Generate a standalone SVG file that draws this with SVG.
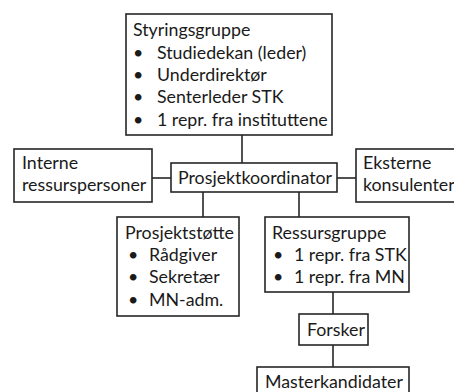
<svg xmlns="http://www.w3.org/2000/svg" width="454" height="392" viewBox="0 0 454 392">
<style>
.box{fill:#fff;stroke:#262626;stroke-width:1.6}
.t{font-family:Lato,"Liberation Sans",sans-serif;font-size:17.8px;fill:#1a1a1a}
.c{stroke:#262626;stroke-width:1.6;fill:none}
</style>
<rect width="454" height="392" fill="#fff"/>
<g id="connectors">
<line class="c" x1="242" y1="135" x2="242" y2="163"/>
<line class="c" x1="152" y1="178" x2="171" y2="178"/>
<line class="c" x1="337" y1="178" x2="356" y2="178"/>
<line class="c" x1="203" y1="192" x2="203" y2="217"/>
<line class="c" x1="299" y1="192" x2="299" y2="217"/>
<line class="c" x1="333" y1="292" x2="333" y2="314"/>
<line class="c" x1="333" y1="345" x2="333" y2="367"/>
</g>
<g id="styringsgruppe">
<rect class="box" x="126" y="14" width="206" height="121"/>
<text class="t" x="133" y="36">Styringsgruppe</text>
<text class="t" x="133" y="58.5">•</text><text class="t" x="157" y="58.5">Studiedekan (leder)</text>
<text class="t" x="133" y="81">•</text><text class="t" x="157" y="81">Underdirektør</text>
<text class="t" x="133" y="103.4">•</text><text class="t" x="157" y="103.4">Senterleder STK</text>
<text class="t" x="133" y="125.8">•</text><text class="t" x="157" y="125.8">1 repr. fra instituttene</text>
</g>
<g id="interne">
<rect class="box" x="14" y="149" width="138" height="53"/>
<text class="t" x="22" y="169">Interne</text>
<text class="t" x="22" y="191.4">ressurspersoner</text>
</g>
<g id="prosjektkoordinator">
<rect class="box" x="171" y="163" width="166" height="29"/>
<text class="t" x="178" y="184">Prosjektkoordinator</text>
</g>
<g id="eksterne">
<rect class="box" x="356" y="149" width="120" height="53"/>
<text class="t" x="363" y="169">Eksterne</text>
<text class="t" x="363" y="191.4">konsulenter</text>
</g>
<g id="prosjektstotte">
<rect class="box" x="117" y="217" width="122" height="99"/>
<text class="t" x="125" y="238.5">Prosjektstøtte</text>
<text class="t" x="128" y="261">•</text><text class="t" x="149" y="261">Rådgiver</text>
<text class="t" x="128" y="283.4">•</text><text class="t" x="149" y="283.4">Sekretær</text>
<text class="t" x="128" y="305.8">•</text><text class="t" x="149" y="305.8">MN-adm.</text>
</g>
<g id="ressursgruppe">
<rect class="box" x="265" y="217" width="144" height="75"/>
<text class="t" x="272" y="238.5">Ressursgruppe</text>
<text class="t" x="273" y="261">•</text><text class="t" x="294" y="261">1 repr. fra STK</text>
<text class="t" x="273" y="283.4">•</text><text class="t" x="294" y="283.4">1 repr. fra MN</text>
</g>
<g id="forsker">
<rect class="box" x="299" y="314" width="69" height="31"/>
<text class="t" x="307" y="336">Forsker</text>
</g>
<g id="masterkandidater">
<rect class="box" x="257" y="367" width="152" height="32"/>
<text class="t" x="265" y="388">Masterkandidater</text>
</g>
</svg>
